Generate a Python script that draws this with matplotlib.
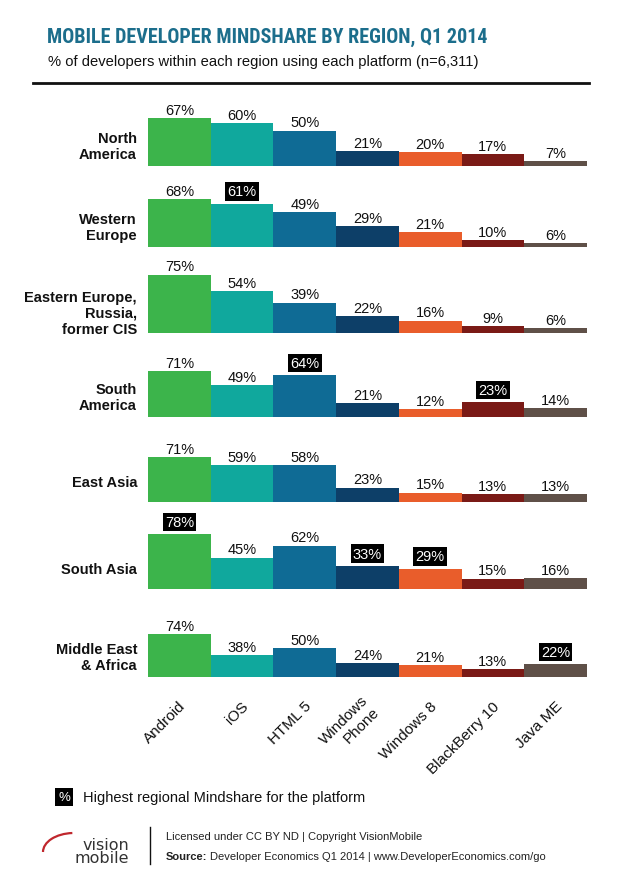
import matplotlib
matplotlib.use("Agg")
import matplotlib.pyplot as plt
from matplotlib import font_manager
from matplotlib.lines import Line2D
from matplotlib.patches import Arc

# ---------------- data ----------------
platforms = ["Android", "iOS", "HTML 5", "Windows\nPhone", "Windows 8", "BlackBerry 10", "Java ME"]
regions = ["North\nAmerica", "Western\nEurope", "Eastern Europe,\nRussia,\nformer CIS",
           "South\nAmerica", "East Asia", "South Asia", "Middle East\n& Africa"]
north_america = [67, 60, 50, 21, 20, 17, 7]
western_europe = [68, 61, 49, 29, 21, 10, 6]
eastern_europe = [75, 54, 39, 22, 16, 9, 6]
south_america = [71, 49, 64, 21, 12, 23, 14]
east_asia = [71, 59, 58, 23, 15, 13, 13]
south_asia = [78, 45, 62, 33, 29, 15, 16]
middle_east_africa = [74, 38, 50, 24, 21, 13, 22]
region_values = [north_america, western_europe, eastern_europe, south_america,
                 east_asia, south_asia, middle_east_africa]

# ---------------- style / layout ----------------
colors = ["#3cb44b", "#10a89d", "#0f6b95", "#0d3f68", "#e95d2b", "#7a1a16", "#5f5048"]
title_color = "#1c6e8c"
plt.rcParams["font.family"] = ["Liberation Sans", "DejaVu Sans"]

W, H = 620, 887
fig = plt.figure(figsize=(W / 100, H / 100), dpi=100)
fig.patch.set_facecolor("white")

row_bottom_px = [167, 248, 334, 418, 503, 590, 678]
px_per_pct = [0.71, 0.71, 0.78, 0.65, 0.63, 0.70, 0.58]
ax_h_px = 80
left_px, right_px = 148, 587

col_max = [max(r[j] for r in region_values) for j in range(len(platforms))]

axes = []
for i, (name, vals) in enumerate(zip(regions, region_values)):
    yb = row_bottom_px[i]
    ax = fig.add_axes([left_px / W, 1 - yb / H, (right_px - left_px) / W, ax_h_px / H])
    ax.bar(range(len(vals)), vals, width=1.0, color=colors, linewidth=0)
    ax.set_xlim(-0.5, len(vals) - 0.5)
    ax.set_ylim(0, ax_h_px / px_per_pct[i])
    ax.axis("off")
    for j, v in enumerate(vals):
        if v == col_max[j]:
            ax.annotate(f"{v}%", (j, v), xytext=(0, 6), textcoords="offset points",
                        ha="center", va="baseline", fontsize=10.5, color="white",
                        bbox=dict(boxstyle="square,pad=0.15", fc="black", ec="none"),
                        annotation_clip=False)
        else:
            ax.annotate(f"{v}%", (j, v), xytext=(0, 3), textcoords="offset points",
                        ha="center", va="baseline", fontsize=10.5, color="#111111",
                        annotation_clip=False)
    fig.text(137 / W, 1 - (yb - 20) / H, name, ha="right", va="center",
             fontsize=10.5, fontweight="bold", linespacing=1.15, color="#111111")
    axes.append(ax)

# platform labels under the last row
last = axes[-1]
for j, p in enumerate(platforms):
    last.annotate(p, (j, 0), xytext=(3, -19), textcoords="offset points",
                  rotation=45, rotation_mode="anchor", ha="right", va="center",
                  multialignment="right", fontsize=11, color="#111111",
                  annotation_clip=False)

# ---------------- title block ----------------
names = {f.name for f in font_manager.fontManager.ttflist}
title_family = "DejaVu Sans"
for cand in ["Roboto Condensed", "Liberation Sans Narrow", "Open Sans Condensed", "DejaVu Sans Condensed"]:
    if cand in names:
        title_family = cand
        break

title = fig.text(47 / W, 1 - 43 / H, "MOBILE DEVELOPER MINDSHARE BY REGION, Q1 2014",
                 ha="left", va="baseline", fontsize=16, fontweight="bold",
                 color=title_color, family=[title_family, "DejaVu Sans"])
sub = fig.text(48 / W, 1 - 66 / H,
               "% of developers within each region using each platform (n=6,311)",
               ha="left", va="baseline", fontsize=10, color="#111111")

fig.canvas.draw()
tw = title.get_window_extent().width
title.set_fontsize(16 * 442 / tw)
sw = sub.get_window_extent().width
sub.set_fontsize(10 * 429 / sw)

fig.add_artist(Line2D([33 / W, 589 / W], [1 - 84 / H, 1 - 84 / H], color="#111111", lw=2))

# ---------------- legend ----------------
fig.text(64 / W, 1 - 798 / H, "%", ha="center", va="center", fontsize=9.5, color="white",
         bbox=dict(boxstyle="square,pad=0.25", fc="black", ec="none"))
fig.text(83 / W, 1 - 798 / H, "Highest regional Mindshare for the platform",
         ha="left", va="center", fontsize=10.5, color="#111111")

# ---------------- footer ----------------
fig.add_artist(Line2D([150 / W, 150 / W], [1 - 828 / H, 1 - 865 / H], color="#111111", lw=1))
fig.text(166 / W, 1 - 837 / H, "Licensed under CC BY ND | Copyright VisionMobile",
         ha="left", va="center", fontsize=8, color="#222222")
src = fig.text(166 / W, 1 - 857 / H, "Source:", ha="left", va="center",
               fontsize=8, fontweight="bold", color="#222222")
fig.canvas.draw()
sx = src.get_window_extent().x1
fig.text((sx + 3) / W, 1 - 857 / H, "Developer Economics Q1 2014 | www.DeveloperEconomics.com/go",
         ha="left", va="center", fontsize=8, color="#222222")

fig.text(129 / W, 1 - 852 / H, "vision\nmobile", ha="right", va="center", fontsize=11.5,
         family="DejaVu Sans", color="#333333", linespacing=0.85, multialignment="right")
fig.add_artist(Arc((0.74, (H - 853) / 100), 0.62, 0.38, theta1=95, theta2=180,
                   transform=fig.dpi_scale_trans, color="#c0272d", lw=1.6))

fig.savefig("out.png", dpi=100, facecolor="white")
